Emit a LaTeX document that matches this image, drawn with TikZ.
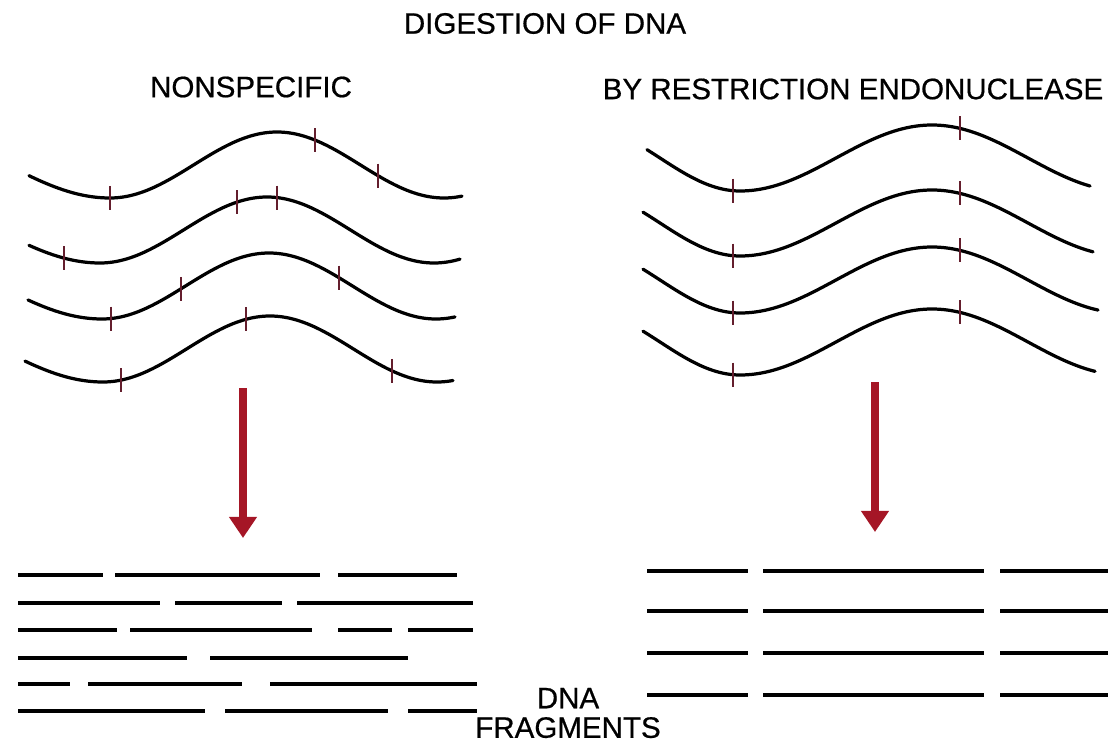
\documentclass[tikz,border=0pt]{standalone}
\usepackage{fontspec}
\setmainfont{Liberation Sans}
\newfontfamily\headfont{Liberation Sans}[FakeBold=0.6]
\usepackage{xcolor}
\usetikzlibrary{arrows.meta}

\definecolor{arrowred}{RGB}{165,22,38}
\definecolor{nickred}{RGB}{100,30,45}

\tikzset{
  heading/.style={inner sep=0pt, font=\headfont\fontsize{21pt}{21pt}\selectfont},
  strand/.style={line width=2.3pt, line cap=round},
  nick/.style={draw=nickred, line width=1.2pt},
  frag/.style={line width=3pt},
  digest/.style={draw=arrowred, line width=5pt, -{Triangle[width=19pt,length=15pt]}},
  declare function={
    wl(\xx,\yy,\mm)=\yy+33*cos((\xx-\mm)/ifthenelse(\xx<\mm,205,167)*180);
    wr(\xx,\yy,\mm)=\yy+33*cos((\xx-\mm)/ifthenelse(\xx<\mm,160,192)*180);
  }
}

\begin{document}
\begin{tikzpicture}[x=0.025cm, y=-0.025cm]
\useasboundingbox (0,0) rectangle (1118,748);

% Titles
\node[heading] (title) at (545,23.5) {DIGESTION OF DNA};
\node[heading] (nonspec) at (251,87) {NONSPECIFIC};
\node[heading] (restrict) at (853,89) {BY RESTRICTION ENDONUCLEASE};

% Nonspecific cuts
\foreach \yc/\xm/\xa/\xb/\nicks in {165/110/29/462/{110,315,378}, 230/100/29/460/{64,237,277}, 286/102/28/455/{111,181,339}, 349/103/25/453/{121,246,392}} {
   \draw[strand] plot[domain=\xa:\xb, samples=90, smooth] (\x, {wl(\x,\yc,\xm)});
   \foreach \t in \nicks
      \draw[nick] (\t, {wl(\t,\yc,\xm)}) +(0,-12) -- +(0,12);
}

% Restriction sites
\foreach \yc/\xa/\xb in {158/647/1090, 223/643/1093, 280/643/1098, 342/643/1095} {
   \draw[strand] plot[domain=\xa:\xb, samples=90, smooth] (\x, {wr(\x,\yc,740)});
   \foreach \t in {733,960}
      \draw[nick] (\t, {wr(\t,\yc,740)}) +(0,-12) -- +(0,12);
}

% Digestion arrows
\coordinate (ltop) at (243,388);
\coordinate (lbot) at (243,538);
\coordinate (rtop) at (875,382);
\coordinate (rbot) at (875,532);
\draw[digest] (ltop) -- (lbot);
\draw[digest] (rtop) -- (rbot);

% Fragments
\foreach \y/\segs in {575/{18/103,115/320,338/457}, 603/{18/160,175/282,297/473}, 630/{18/117,130/312,338/392,408/473}, 658/{18/187,210/408}, 684/{18/70,88/242,270/477}, 711/{18/205,225/388,408/477}}
   \foreach \fa/\fb in \segs
      \draw[frag] (\fa,\y) -- (\fb,\y);
\foreach \y in {571,611,653,695}
   \foreach \fa/\fb in {647/748,763/984,1000/1108}
      \draw[frag] (\fa,\y) -- (\fb,\y);

\node[heading, align=center] (frag) at (568,713) {DNA\\FRAGMENTS};
\end{tikzpicture}
\end{document}
